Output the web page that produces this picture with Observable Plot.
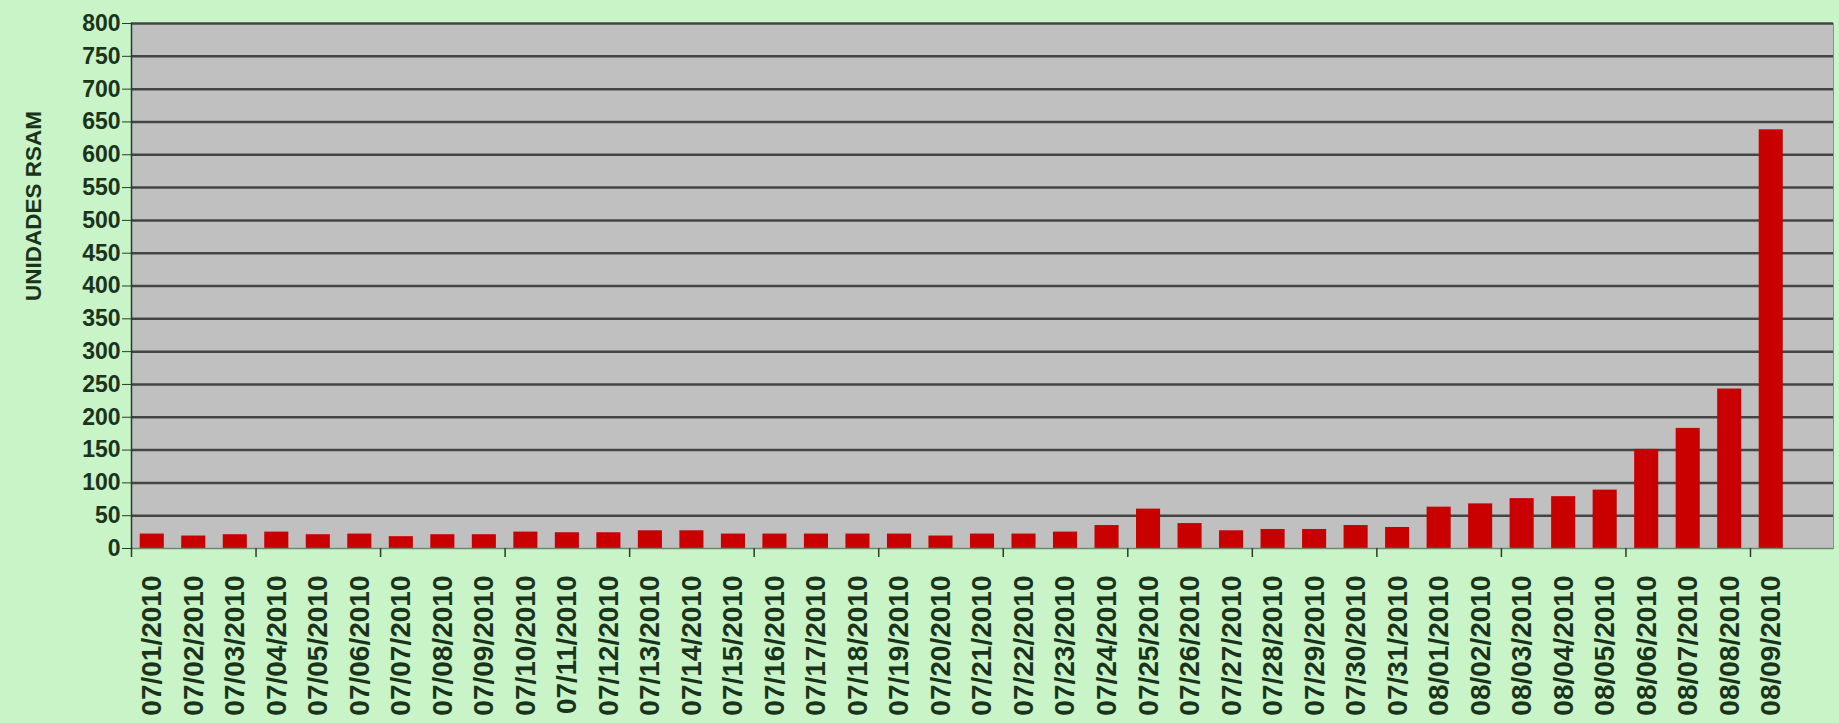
<!DOCTYPE html>
<html><head><meta charset="utf-8">
<script src="https://cdn.jsdelivr.net/npm/d3@7"></script>
<script src="https://cdn.jsdelivr.net/npm/@observablehq/plot@0.6"></script>
<style>
html,body{margin:0;padding:0;background:#c8f4c8;}
#chart svg{display:block;}
</style></head><body><div id="chart"></div>
<script>
const dates = ["07/01/2010","07/02/2010","07/03/2010","07/04/2010","07/05/2010","07/06/2010","07/07/2010","07/08/2010","07/09/2010","07/10/2010",
"07/11/2010","07/12/2010","07/13/2010","07/14/2010","07/15/2010","07/16/2010","07/17/2010","07/18/2010","07/19/2010","07/20/2010",
"07/21/2010","07/22/2010","07/23/2010","07/24/2010","07/25/2010","07/26/2010","07/27/2010","07/28/2010","07/29/2010","07/30/2010",
"07/31/2010","08/01/2010","08/02/2010","08/03/2010","08/04/2010","08/05/2010","08/06/2010","08/07/2010","08/08/2010","08/09/2010"];
const values = [22,19,21,25,21,22,18,21,21,25,
24,24,27,27,22,22,22,22,22,19,
22,22,25,35,60,38,27,29,29,35,
32,63,68,76,79,89,151,183,243,638];
const yTicks = [0,50,100,150,200,250,300,350,400,450,500,550,600,650,700,750,800];
const yLabel = "UNIDADES RSAM";

const data = dates.map((d, i) => ({date: d, value: values[i]}));
const xDomain = [...dates, ""];
const boundaryCats = dates.filter((d, i) => i % 3 === 0);

const W = 1839, H = 723, mL = 131, mR = 6, mT = 23, mB = 175;
const step = (W - mL - mR) / xDomain.length;
const textColor = "#1a331a";

const chart = Plot.plot({
  width: W, height: H,
  marginLeft: mL, marginRight: mR, marginTop: mT, marginBottom: mB,
  style: {background: "#c8f4c8", fontFamily: "'Liberation Sans', Arial, sans-serif", color: textColor},
  x: {type: "band", domain: xDomain, paddingInner: 0.42, paddingOuter: 0.21, round: false},
  y: {domain: [0, 800]},
  marks: [
    Plot.frame({fill: "#c0c0c0", stroke: "#8c8c8c"}),
    Plot.gridY(yTicks.filter(v => v > 0), {stroke: "#444444", strokeOpacity: 1, strokeWidth: 2.5}),
    Plot.barY(data, {x: "date", y: "value", fill: "#c80000"}),
    Plot.ruleY([0], {stroke: "#6f876f", strokeWidth: 1.5}),
    Plot.frame({anchor: "left", stroke: "#2b3b2b", strokeWidth: 1.5}),
    Plot.ruleX(boundaryCats, {x: d => d, y1: 0, y2: 0, insetBottom: -9, dx: -step / 2, stroke: "#2b3b2b", strokeWidth: 1.5}),
    Plot.axisY(yTicks, {tickSize: 9, tickPadding: 2, fontSize: 23, fontWeight: "bold", label: null, stroke: "#2b3b2b", fill: textColor}),
    Plot.axisX({tickSize: 0, tickRotate: -90, tickPadding: 27, fontSize: 28, fontWeight: "bold", label: null, fill: textColor}),
    Plot.text([yLabel], {frameAnchor: "left", textAnchor: "middle", rotate: -90, dx: -98, dy: -80, fontSize: 22.5, fontWeight: "bold", fill: textColor})
  ]
});
document.getElementById("chart").appendChild(chart);
</script>
</body></html>
